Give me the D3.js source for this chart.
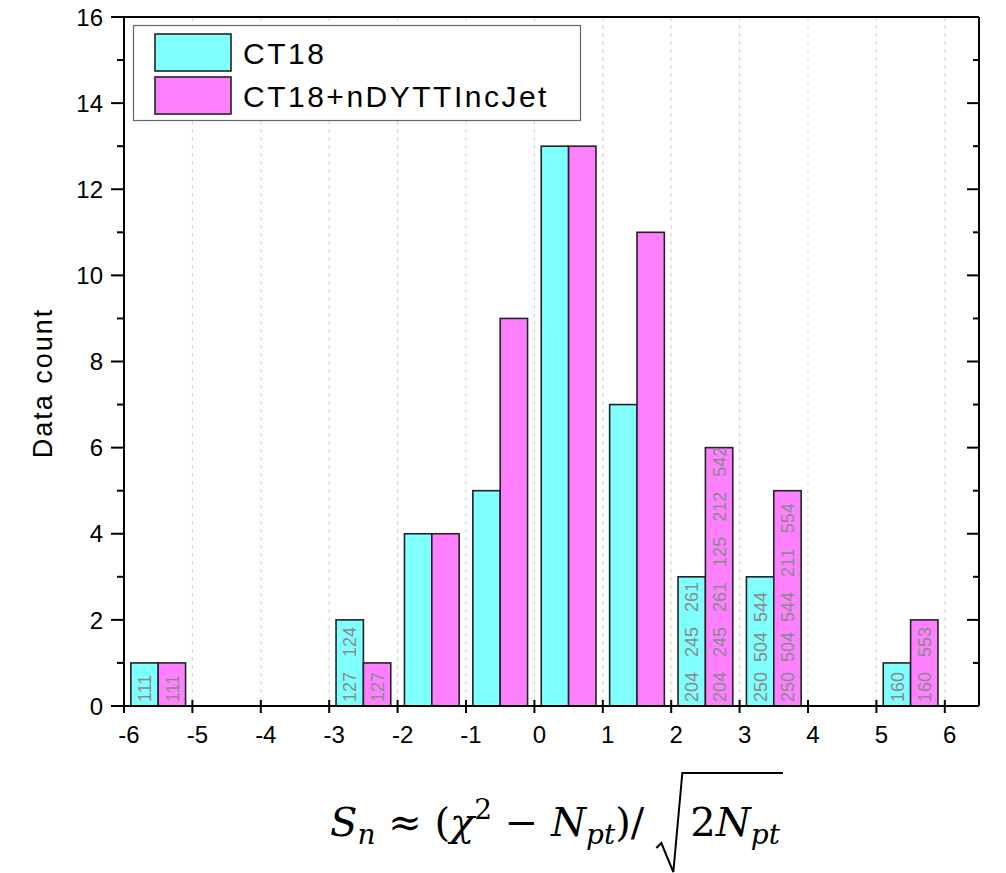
<!DOCTYPE html>
<html>
<head>
<meta charset="utf-8">
<script src="https://cdn.jsdelivr.net/npm/d3@7"></script>
<style>
  body { margin: 0; background: #fff; }
  svg { display: block; }
</style>
</head>
<body>
<div id="chart"></div>
<script>
// bins start at these x values, width 1
var bins = [-6, -5, -4, -3, -2, -1, 0, 1, 2, 3, 4, 5];
var ct18 = [1, 0, 0, 2, 4, 5, 13, 7, 3, 3, 0, 1];
var ct18Nd = [1, 0, 0, 1, 4, 9, 13, 11, 6, 5, 0, 2];
var ct18Labels = ["111", "", "", "127   124", "", "", "", "", "204   245   261", "250  504  544", "", "160"];
var ct18NdLabels = ["111", "", "", "127", "", "", "", "", "204   245   261   125   212   542", "250  504  544   211   554", "", "160   553"];
var seriesNames = ["CT18", "CT18+nDYTTIncJet"];
var seriesColors = ["#80ffff", "#ff80ff"];
var xTickValues = d3.range(-6, 7);
var yTickValues = d3.range(0, 17, 2);
var yMinorValues = d3.range(0, 17, 1);

var width = 1006, height = 873;
var margin = {left: 124, right: 27, top: 17, bottom: 167};

var svg = d3.select('#chart').append('svg')
    .attr('width', width)
    .attr('height', height);

var x = d3.scaleLinear().domain([-6, 6.5]).range([margin.left, width - margin.right]);
var y = d3.scaleLinear().domain([0, 16]).range([height - margin.bottom, margin.top]);

var x0 = x.range()[0], x1 = x.range()[1], y0 = y.range()[0], y1 = y.range()[1];

// dashed vertical grid
svg.append('g').selectAll('line')
    .data(xTickValues.filter(function (d) { return d > -6; }))
    .enter().append('line')
    .attr('x1', function (d) { return x(d); })
    .attr('x2', function (d) { return x(d); })
    .attr('y1', y1)
    .attr('y2', y0)
    .attr('stroke', '#d0d0d0')
    .attr('stroke-width', 1)
    .attr('stroke-dasharray', '4,4');

// bars
var series = [
    {name: seriesNames[0], values: ct18, labels: ct18Labels, color: seriesColors[0], offset: 0.1},
    {name: seriesNames[1], values: ct18Nd, labels: ct18NdLabels, color: seriesColors[1], offset: 0.5}
];

series.forEach(function (s) {
    var rows = bins.map(function (b, i) {
        return {bin: b, value: s.values[i], label: s.labels[i]};
    }).filter(function (d) { return d.value > 0; });

    var g = svg.append('g');
    g.selectAll('rect')
        .data(rows)
        .enter().append('rect')
        .attr('x', function (d) { return x(d.bin + s.offset); })
        .attr('width', function (d) { return x(d.bin + s.offset + 0.4) - x(d.bin + s.offset); })
        .attr('y', function (d) { return y(d.value); })
        .attr('height', function (d) { return y(0) - y(d.value); })
        .attr('fill', s.color)
        .attr('stroke', '#222')
        .attr('stroke-width', 1.6);

    g.selectAll('text')
        .data(rows.filter(function (d) { return d.label; }))
        .enter().append('text')
        .attr('transform', function (d) {
            var cx = x(d.bin + s.offset + 0.2);
            return 'translate(' + cx + ',' + (y(0) - 4) + ') rotate(-90)';
        })
        .attr('dy', '0.37em')
        .style('white-space', 'pre')
        .attr('fill', '#8a8a8a')
        .style('font-family', 'Liberation Sans, Arial, sans-serif')
        .style('font-size', '18px')
        .text(function (d) { return d.label; });
});

// frame
var axisColor = '#000';
svg.append('line').attr('x1', x0).attr('x2', x1).attr('y1', y1).attr('y2', y1)
    .attr('stroke', axisColor).attr('stroke-width', 2);
svg.append('line').attr('x1', x1).attr('x2', x1).attr('y1', y1).attr('y2', y0)
    .attr('stroke', axisColor).attr('stroke-width', 2);
svg.append('line').attr('x1', x0).attr('x2', x0).attr('y1', y1).attr('y2', y0 + 1)
    .attr('stroke', axisColor).attr('stroke-width', 2);
svg.append('line').attr('x1', x0 - 1).attr('x2', x1).attr('y1', y0).attr('y2', y0)
    .attr('stroke', axisColor).attr('stroke-width', 2);

// left ticks (outside) and right ticks (inside)
var yt = svg.append('g');
yt.selectAll('.lt').data(yMinorValues).enter().append('line')
    .attr('x1', function (d) { return x0 - (d % 2 === 0 ? 13 : 7); })
    .attr('x2', x0)
    .attr('y1', function (d) { return y(d); })
    .attr('y2', function (d) { return y(d); })
    .attr('stroke', axisColor).attr('stroke-width', 2);
yt.selectAll('.rt').data(yMinorValues).enter().append('line')
    .attr('x1', function (d) { return x1 - (d % 2 === 0 ? 12 : 6); })
    .attr('x2', x1)
    .attr('y1', function (d) { return y(d); })
    .attr('y2', function (d) { return y(d); })
    .attr('stroke', axisColor).attr('stroke-width', 2);
yt.selectAll('text').data(yTickValues).enter().append('text')
    .attr('x', x0 - 21)
    .attr('y', function (d) { return y(d); })
    .attr('dy', '0.36em')
    .attr('text-anchor', 'end')
    .style('font-family', 'Liberation Sans, Arial, sans-serif')
    .style('font-size', '24px')
    .text(function (d) { return d; });

// bottom ticks crossing the axis
var xt = svg.append('g');
xt.selectAll('line').data(xTickValues).enter().append('line')
    .attr('x1', function (d) { return x(d); })
    .attr('x2', function (d) { return x(d); })
    .attr('y1', y0 - 6)
    .attr('y2', y0 + 7)
    .attr('stroke', axisColor).attr('stroke-width', 2);
xt.selectAll('text').data(xTickValues).enter().append('text')
    .attr('x', function (d) { return x(d) + 5; })
    .attr('y', y0 + 37)
    .attr('text-anchor', 'middle')
    .style('font-family', 'Liberation Sans, Arial, sans-serif')
    .style('font-size', '24px')
    .text(function (d) { return d; });

// y axis title
svg.append('text')
    .attr('transform', 'translate(52,383) rotate(-90)')
    .attr('text-anchor', 'middle')
    .style('font-family', 'Liberation Sans, Arial, sans-serif')
    .style('font-size', '27px')
    .style('letter-spacing', '2px')
    .text('Data count');

// legend
var legend = svg.append('g');
legend.append('rect')
    .attr('x', 133.5).attr('y', 25.5)
    .attr('width', 447).attr('height', 95)
    .attr('fill', '#fff')
    .attr('stroke', '#666')
    .attr('stroke-width', 1.2);
seriesNames.forEach(function (name, i) {
    legend.append('rect')
        .attr('x', 155).attr('y', 34 + i * 43)
        .attr('width', 76).attr('height', 37)
        .attr('fill', seriesColors[i])
        .attr('stroke', '#222')
        .attr('stroke-width', 1.6);
    legend.append('text')
        .attr('x', 243).attr('y', 64 + i * 43)
        .style('font-family', 'Liberation Sans, Arial, sans-serif')
        .style('font-size', '30px')
        .style('letter-spacing', '2.5px')
        .text(name);
});

// x axis title: S_n ≈ (χ² − N_pt)/√(2N_pt)
var mathFont = 'DejaVu Serif, serif';
var baseY = 836;
var big = '40px', small = '28px';
var t1 = svg.append('text')
    .attr('x', 330).attr('y', baseY)
    .style('font-family', mathFont)
    .style('font-size', big)
    .style('white-space', 'pre');
t1.append('tspan').style('font-style', 'italic').text('S');
t1.append('tspan').style('font-style', 'italic').style('font-size', small).attr('dy', 8).text('n');
t1.append('tspan').attr('dy', -8).text(' \u2248 (');
t1.append('tspan').style('font-style', 'italic').text('\u03c7');
t1.append('tspan').style('font-size', small).attr('dy', -17).text('2');
t1.append('tspan').attr('dy', 17).text(' \u2212 ');
t1.append('tspan').style('font-style', 'italic').text('N');
t1.append('tspan').style('font-style', 'italic').style('font-size', small).attr('dy', 8).text('pt');
t1.append('tspan').attr('dy', -8).text(')/');

var len1 = t1.node().getComputedTextLength();
var rx = 330 + len1 + 12;

var t2 = svg.append('text')
    .attr('x', rx + 34).attr('y', baseY)
    .style('font-family', mathFont)
    .style('font-size', big);
t2.append('tspan').text('2');
t2.append('tspan').style('font-style', 'italic').text('N');
t2.append('tspan').style('font-style', 'italic').style('font-size', small).attr('dy', 8).text('pt');
var len2 = t2.node().getComputedTextLength();

svg.append('path')
    .attr('d', 'M' + rx + ',848 L' + (rx + 5) + ',843 L' + (rx + 17) + ',872 L' + (rx + 26) + ',773 L' + (rx + 34 + len2 + 3) + ',773')
    .attr('fill', 'none')
    .attr('stroke', '#000')
    .attr('stroke-width', 2);
</script>
</body>
</html>
